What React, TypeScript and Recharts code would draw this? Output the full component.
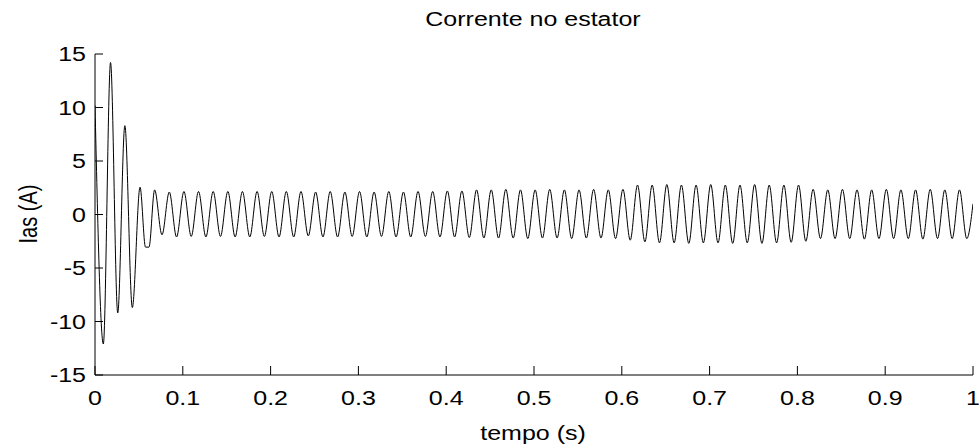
import React from 'react';
import { LineChart, Line, XAxis, YAxis } from 'recharts';

const tempo = [
  0, 0.0095, 0.0177, 0.0259, 0.034, 0.0425,
  0.0513, 0.0575, 0.0615,
  0.0679, 0.0763, 0.0846, 0.0929, 0.1013, 0.1096, 0.1179, 0.1263, 0.1346, 0.1429,
  0.1513, 0.1596, 0.1679, 0.1763, 0.1846, 0.1929, 0.2013, 0.2096, 0.2179, 0.2263,
  0.2346, 0.2429, 0.2513, 0.2596, 0.2679, 0.2763, 0.2846, 0.2929, 0.3013, 0.3096,
  0.3179, 0.3263, 0.3346, 0.3429, 0.3513, 0.3596, 0.3679, 0.3763, 0.3846, 0.3929,
  0.4013, 0.4096, 0.4179, 0.4263, 0.4346, 0.4429, 0.4513, 0.4596, 0.4679, 0.4763,
  0.4846, 0.4929, 0.5013, 0.5096, 0.5179, 0.5263, 0.5346, 0.5429, 0.5513, 0.5596,
  0.5679, 0.5763, 0.5846, 0.5929, 0.6013, 0.6096, 0.6179, 0.6263, 0.6346, 0.6429,
  0.6513, 0.6596, 0.6679, 0.6763, 0.6846, 0.6929, 0.7013, 0.7096, 0.7179, 0.7263,
  0.7346, 0.7429, 0.7513, 0.7596, 0.7679, 0.7763, 0.7846, 0.7929, 0.8013, 0.8096,
  0.8179, 0.8263, 0.8346, 0.8429, 0.8513, 0.8596, 0.8679, 0.8763, 0.8846, 0.8929,
  0.9013, 0.9096, 0.9179, 0.9263, 0.9346, 0.9429, 0.9513, 0.9596, 0.9679, 0.9763,
  0.9846, 0.9929, 1.0,
];

const ias = [
  10.2, -12.1, 14.2, -9.2, 8.3, -8.7,
  2.55, -3.05, -3.05,
  2.3, -1.9, 2.1, -2.1, 2.15, -2.05, 2.15, -2.1, 2.15, -2.05,
  2.15, -2.1, 2.15, -2.1, 2.15, -2.05, 2.15, -2.1, 2.15, -2.1,
  2.15, -2.0, 2.1, -2.1, 2.15, -2.1, 2.1, -2.05, 2.15, -2.1,
  2.1, -2.05, 2.15, -2.1, 2.1, -2.1, 2.15, -2.05, 2.15, -2.1,
  2.2, -2.1, 2.2, -2.15, 2.3, -2.2, 2.3, -2.2, 2.35, -2.2,
  2.3, -2.25, 2.3, -2.2, 2.35, -2.2, 2.3, -2.25, 2.3, -2.2,
  2.35, -2.2, 2.3, -2.25, 2.35, -2.4, 2.75, -2.55, 2.75, -2.65,
  2.8, -2.65, 2.75, -2.7, 2.75, -2.65, 2.8, -2.65, 2.75, -2.7,
  2.75, -2.65, 2.8, -2.7, 2.75, -2.65, 2.75, -2.6, 2.75, -2.5,
  2.35, -2.25, 2.3, -2.25, 2.35, -2.25, 2.3, -2.3, 2.3, -2.25,
  2.35, -2.25, 2.3, -2.25, 2.3, -2.3, 2.35, -2.25, 2.3, -2.25,
  2.3, -2.25, 1.0,
];

const xTicks = [0, 0.1, 0.2, 0.3, 0.4, 0.5, 0.6, 0.7, 0.8, 0.9, 1];
const yTicks = [-15, -10, -5, 0, 5, 10, 15];
const titleText = 'Corrente no estator';
const xLabelText = 'tempo (s)';
const yLabelText = 'Ias (A)';

const data = tempo.map((t, i) => ({ t, ias: ias[i] }));

const FONT = "'Liberation Sans', Arial, Helvetica, sans-serif";
const SX = 1.25;
const FS = 20;

const XTick = (p: any) => {
  const { x, y, payload } = p;
  return (
    <g>
      <line x1={x} y1={y} x2={x} y2={y - 9} stroke="#000" strokeWidth={1} />
      <text
        transform={`translate(${x},${y + 30}) scale(${SX},1)`}
        textAnchor="middle"
        fontSize={FS}
        fontFamily={FONT}
        fill="#000"
      >
        {String(payload.value)}
      </text>
    </g>
  );
};

const TopTick = (p: any) => {
  const { x, y } = p;
  return <line x1={x} y1={y} x2={x} y2={y + 9} stroke="#000" strokeWidth={1} />;
};

const YTick = (p: any) => {
  const { x, y, payload } = p;
  return (
    <g>
      <line x1={x} y1={y} x2={x + 8} y2={y} stroke="#000" strokeWidth={1} />
      <text
        transform={`translate(${x - 9},${y + 7}) scale(${SX},1)`}
        textAnchor="end"
        fontSize={FS}
        fontFamily={FONT}
        fill="#000"
      >
        {String(payload.value)}
      </text>
    </g>
  );
};

const RightTick = (p: any) => {
  const { x, y } = p;
  return <line x1={x} y1={y} x2={x - 8} y2={y} stroke="#000" strokeWidth={1} />;
};

const textStyle: React.CSSProperties = {
  position: 'absolute',
  fontFamily: FONT,
  fontSize: FS,
  lineHeight: `${FS}px`,
  color: '#000',
  whiteSpace: 'nowrap',
};

export default function App() {
  return (
    <div style={{ position: 'absolute', left: 0, top: 0, width: 979, height: 446, background: '#fff' }}>
      <LineChart
        width={979}
        height={446}
        data={data}
        margin={{ top: 54, right: 6, bottom: 0, left: 0 }}
      >
        <XAxis
          dataKey="t"
          type="number"
          domain={[0, 1]}
          ticks={xTicks}
          interval={0}
          height={71}
          tickSize={0}
          tickMargin={0}
          tickLine={false}
          tick={<XTick />}
          axisLine={{ stroke: '#000' }}
          allowDataOverflow
        />
        <XAxis
          xAxisId="top"
          orientation="top"
          dataKey="t"
          type="number"
          domain={[0, 1]}
          ticks={xTicks}
          interval={0}
          height={0}
          tickSize={0}
          tickMargin={0}
          tickLine={false}
          tick={<TopTick />}
          axisLine={{ stroke: '#000' }}
          allowDataOverflow
        />
        <YAxis
          type="number"
          domain={[-15, 15]}
          ticks={yTicks}
          interval={0}
          width={95}
          tickSize={0}
          tickMargin={0}
          tickLine={false}
          tick={<YTick />}
          axisLine={{ stroke: '#000' }}
          allowDataOverflow
        />
        <YAxis
          yAxisId="right"
          orientation="right"
          type="number"
          domain={[-15, 15]}
          ticks={yTicks}
          interval={0}
          width={0}
          tickSize={0}
          tickMargin={0}
          tickLine={false}
          tick={<RightTick />}
          axisLine={{ stroke: '#000' }}
          allowDataOverflow
        />
        <Line
          dataKey="ias"
          type="monotone"
          stroke="#000"
          strokeWidth={1}
          dot={false}
          isAnimationActive={false}
        />
      </LineChart>
      <div style={{ ...textStyle, left: 533, top: 9, transform: `translate(-50%, 0) scaleX(${SX})` }}>
        {titleText}
      </div>
      <div style={{ ...textStyle, left: 533, top: 433, transform: `translate(-50%, -50%) scaleX(${SX})` }}>
        {xLabelText}
      </div>
      <div style={{ ...textStyle, left: 28, top: 214, transform: `translate(-50%, -50%) scaleX(${SX}) rotate(-90deg)` }}>
        {yLabelText}
      </div>
    </div>
  );
}
